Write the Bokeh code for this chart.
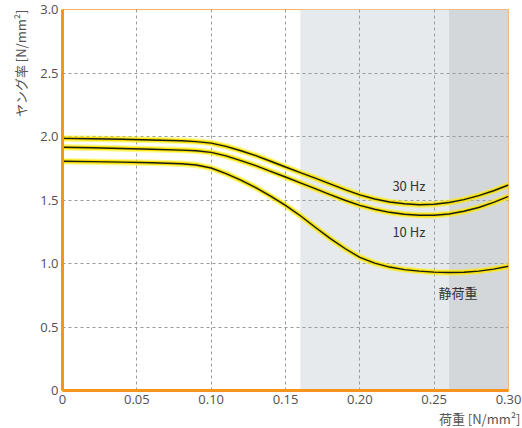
from bokeh.plotting import figure
from bokeh.models import Range1d, FixedTicker, Title
from bokeh.embed import file_html
from bokeh.resources import INLINE
from bokeh.core.properties import value

# ---- data ----
load = [0, 0.02, 0.04, 0.06, 0.08, 0.09, 0.10, 0.11, 0.12, 0.13, 0.14, 0.15, 0.16,
        0.17, 0.18, 0.19, 0.20, 0.21, 0.22, 0.23, 0.24, 0.25, 0.26, 0.27, 0.28, 0.29, 0.30]
e_30hz = [1.985, 1.982, 1.978, 1.973, 1.966, 1.960, 1.948, 1.922, 1.888, 1.850, 1.805, 1.760, 1.715,
          1.672, 1.627, 1.582, 1.540, 1.508, 1.484, 1.470, 1.463, 1.466, 1.480, 1.503, 1.534, 1.573, 1.618]
e_10hz = [1.915, 1.911, 1.906, 1.900, 1.893, 1.888, 1.875, 1.847, 1.810, 1.770, 1.726, 1.681, 1.635,
          1.589, 1.543, 1.498, 1.458, 1.427, 1.403, 1.388, 1.380, 1.380, 1.390, 1.411, 1.441, 1.481, 1.528]
e_static = [1.805, 1.802, 1.798, 1.793, 1.786, 1.776, 1.752, 1.708, 1.656, 1.598, 1.530, 1.458, 1.376,
            1.285, 1.198, 1.118, 1.048, 1.003, 0.972, 0.952, 0.940, 0.932, 0.929, 0.931, 0.940, 0.956, 0.978]

series_names = ["30 Hz", "10 Hz", "静荷重"]

zone_left = [0.16, 0.26]
zone_right = [0.26, 0.30]

x_ticks = [0, 0.05, 0.10, 0.15, 0.20, 0.25, 0.30]
x_tick_labels = ["0", "0.05", "0.10", "0.15", "0.20", "0.25", "0.30"]
y_ticks = [0, 0.5, 1.0, 1.5, 2.0, 2.5, 3.0]
y_tick_labels = ["0", "0.5", "1.0", "1.5", "2.0", "2.5", "3.0"]

x_title = "荷重 [N/mm²]"
y_title = "ヤング率 [N/mm²]"

# ---- styles ----
ORANGE = "#f7941d"
TICK_FONT = "Open Sans"
JP_FONT = "Noto Sans CJK JP"
zone_colors = ["#e7eaec", "#d4d7da"]

p = figure(width=522, height=428, output_backend="svg", toolbar_location=None,
           x_range=Range1d(x_ticks[0], x_ticks[-1]), y_range=Range1d(y_ticks[0], y_ticks[-1]),
           min_border_left=62, min_border_right=14, min_border_top=9, min_border_bottom=38)
p.background_fill_color = "white"
p.border_fill_color = "white"
p.outline_line_color = "#f9b061"
p.outline_line_width = 1

# shaded zones under the grid
p.quad(left=zone_left, right=zone_right, bottom=y_ticks[0], top=y_ticks[-1],
       fill_color=zone_colors, line_color=None, level="image")

# grid
p.xgrid.ticker = FixedTicker(ticks=x_ticks)
p.ygrid.ticker = FixedTicker(ticks=y_ticks)
for g in (p.xgrid, p.ygrid):
    g.grid_line_color = "#9a9a9a"
    g.grid_line_dash = "3 3"
    g.grid_line_width = 1

# axes
p.xaxis.ticker = FixedTicker(ticks=x_ticks)
p.yaxis.ticker = FixedTicker(ticks=y_ticks)
p.xaxis.major_label_overrides = dict(zip(x_ticks, x_tick_labels))
p.yaxis.major_label_overrides = dict(zip(y_ticks, y_tick_labels))
for ax in (p.xaxis, p.yaxis):
    ax.axis_line_color = ORANGE
    ax.axis_line_width = 3
    ax.major_tick_line_color = None
    ax.minor_tick_line_color = None
    ax.major_tick_out = 0
    ax.major_tick_in = 0
    ax.minor_tick_out = 0
    ax.major_label_text_font = TICK_FONT
    ax.major_label_text_font_size = "13px"
    ax.major_label_text_color = "#505050"
    ax.major_label_standoff = 4

# axis titles
p.add_layout(Title(text=x_title, align="right", text_font=JP_FONT, text_font_size="13px",
                   text_font_style="normal", text_color="#555555", standoff=0, offset=-12), "below")
p.add_layout(Title(text=y_title, align="right", text_font=JP_FONT, text_font_size="13px",
                   text_font_style="normal", text_color="#555555", standoff=16), "left")

# curves with yellow glow
for ys in (e_static, e_10hz, e_30hz):
    p.line(load, ys, line_color="#fff200", line_width=6.5, line_alpha=0.45)
    p.line(load, ys, line_color="#f5e000", line_width=3.8)
    p.line(load, ys, line_color="#1a1a1a", line_width=1.4)

# series labels
p.text(x=[0.233, 0.233, 0.266], y=[1.617, 1.25, 0.773], text=series_names,
       text_font=value(JP_FONT), text_font_size="13px", text_color="#333333",
       text_align="center", text_baseline="middle")

open("out.html", "w").write(file_html(p, INLINE))
